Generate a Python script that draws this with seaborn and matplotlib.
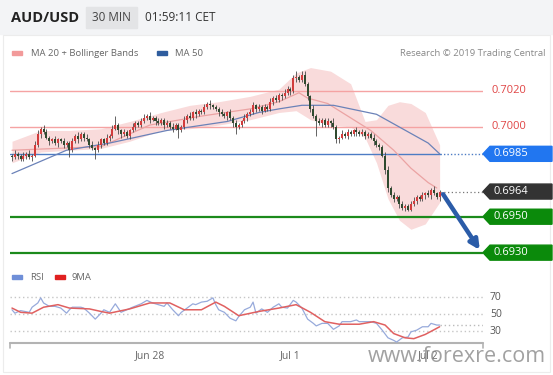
import numpy as np
import pandas as pd
import matplotlib
matplotlib.use('Agg')
import matplotlib.pyplot as plt
from matplotlib.patches import Polygon, Rectangle
import seaborn as sns

# --- data (prices in 1e-4 units) ---
first_open = 6984
closes = [6983, 6985, 6984, 6982, 6984, 6985, 6983, 6984,
          6990, 6996, 6999, 6997,
          6994, 6992, 6993, 6991, 6993, 6992, 6990, 6991, 6987,
          6992, 6995, 6993, 6996, 6994, 6993, 6990, 6988, 6987,
          6990, 6993, 6991, 6994, 6995, 6999, 7001, 6998,
          6996, 6997, 6995, 6998, 7000, 7002, 7001, 7003,
          7005, 7006, 7004, 7005, 7003, 7002, 7004, 7001, 7002,
          7000, 6999, 7001, 6998, 7000,
          7004, 7006, 7005, 7008, 7007, 7009, 7008,
          7011, 7013, 7012, 7011, 7010, 7008, 7007, 7006, 7008, 7005,
          7002, 7000, 7001, 7003, 7005, 7007, 7008, 7012, 7010, 7011,
          7009, 7011, 7010, 7014, 7016, 7015, 7018, 7017, 7019, 7021, 7020,
          7027, 7028, 7026, 7029, 7024, 7017, 7010, 7006, 7003,
          7002, 7004, 7001, 7003, 7002, 7000, 6993,
          6994, 6996, 6995, 6997, 6996, 6998, 6997, 6996, 6997, 6995, 6996,
          6994, 6992, 6990, 6989, 6984, 6976, 6966,
          6962, 6960, 6961, 6957, 6955, 6956, 6954, 6957,
          6959, 6961, 6960, 6962, 6963, 6962, 6965, 6963, 6961, 6964]
wick_hi = [1, 2, 1, 1, 2, 1, 2, 1, 2, 2, 1, 2, 2, 1, 1, 2, 1, 1, 2, 1, 1,
           2, 1, 2, 1, 1, 2, 1, 2, 1, 2, 1, 1, 2, 1, 2, 5, 1,
           1, 2, 1, 1, 2, 1, 1, 2, 2, 1, 2, 1, 1, 2, 1, 1, 2,
           1, 2, 1, 1, 1, 2, 1, 2, 1, 2, 1, 1, 2, 1, 2, 1, 1, 1, 2, 1, 1, 2,
           1, 2, 1, 1, 2, 1, 2, 2, 1, 2, 1, 2, 1, 2, 1, 2, 1, 1, 2, 2, 1,
           2, 3, 1, 2, 2, 1, 1, 2, 1, 2, 1, 1, 2, 1, 3, 1,
           1, 2, 1, 2, 1, 1, 2, 1, 2, 1, 1, 1, 2, 1, 1, 1, 2, 2,
           1, 2, 1, 1, 2, 1, 1, 2, 2, 1, 1, 2, 1, 2, 1, 2, 1, 1]
wick_lo = [2, 1, 2, 1, 1, 2, 1, 2, 1, 1, 2, 1, 1, 2, 1, 1, 2, 1, 2, 1, 4,
           1, 1, 2, 1, 2, 1, 2, 1, 5, 1, 2, 1, 1, 2, 1, 1, 2,
           2, 1, 1, 2, 1, 2, 1, 1, 1, 1, 2, 1, 2, 1, 1, 2, 1,
           1, 2, 1, 4, 1, 1, 2, 1, 1, 2, 1, 1, 1, 1, 2, 1, 1, 2, 1, 1, 2, 1,
           2, 4, 1, 1, 1, 2, 1, 1, 2, 1, 2, 1, 1, 1, 2, 1, 1, 2, 1, 1, 2,
           1, 2, 1, 1, 1, 2, 2, 1, 8, 1, 2, 1, 1, 2, 1, 2,
           2, 1, 1, 2, 1, 1, 2, 1, 1, 2, 1, 1, 2, 1, 2, 1, 2, 2,
           1, 2, 1, 2, 1, 2, 1, 1, 1, 2, 1, 1, 2, 1, 2, 1, 1, 2]

ma20_at = [0, 31, 48, 66, 83, 93, 100, 103, 110, 117, 125, 133, 139, 145, 148]
ma20 = [6987, 6989, 7001, 7006, 7010, 7014, 7019, 7016, 7013, 7006, 6998, 6987, 6977, 6969, 6966]
ma50_at = [0, 19, 34, 54, 75, 86, 93, 101, 112, 127, 136, 145, 149]
ma50 = [6974, 6987, 6991, 6998, 7003, 7008, 7010, 7012, 7012, 7007, 6999, 6991, 6985]
band_at = [0, 10, 20, 31, 41, 52, 62, 72, 83, 93, 99, 104, 111, 118, 123, 127, 131, 135, 139, 144, 149]
band_up = [6992, 6998, 6998, 6999, 7003, 7008, 7012, 7014, 7017, 7021, 7030, 7033, 7031, 7024,
           7003, 7004, 7012, 7014, 7013, 7008, 6990]
band_lo = [6980, 6986, 6987, 6988, 6992, 6998, 6999, 7001, 7004, 7008, 7009, 7004, 7001, 7000,
           6994, 6980, 6960, 6948, 6943, 6946, 6958]

rsi_at = [0, 1, 3, 6, 7, 9, 10, 11, 13, 15, 17, 19, 20, 21, 24, 25, 27, 29, 31, 32, 34, 36, 38,
          40, 42, 45, 47, 49, 51, 53, 54, 56, 58, 59, 61, 63, 64, 66, 68, 70, 71, 72, 74, 76,
          78, 79, 81, 83, 84, 85, 87, 89, 91, 93, 94, 96, 98, 99, 101, 103, 105, 106, 108,
          110, 112, 114, 115, 118, 120, 121, 124, 125, 127, 129, 131, 133, 134, 136, 138,
          139, 141, 143, 145, 146, 148, 149]
rsi = [55, 51, 54, 52, 58, 63, 69, 63, 59, 59, 57, 51, 55, 58, 58, 57, 51, 44, 51, 55, 52, 62, 52,
       55, 58, 62, 66, 63, 61, 59, 63, 55, 48, 52, 57, 62, 61, 64, 65, 69, 61, 55, 52, 45,
       42, 47, 55, 58, 64, 51, 56, 52, 58, 62, 58, 57, 66, 64, 57, 44, 39, 36, 39,
       39, 32, 36, 41, 41, 43, 41, 41, 41, 39, 31, 22, 19, 17, 22, 23,
       29, 31, 35, 35, 39, 37, 37]
rsi_ma_at = [0, 3, 7, 11, 16, 20, 27, 31, 34, 41, 48, 55, 60, 66, 71, 74, 79, 86, 93, 99,
             104, 109, 114, 121, 126, 130, 133, 137, 140, 144, 149]
rsi_ma = [57, 52, 51, 58, 61, 57, 56, 53, 51, 56, 63, 63, 55, 55, 64, 59, 48, 53, 57, 61,
          52, 41, 38, 38, 41, 37, 27, 22, 21, 26, 35]

levels = [0.7020, 0.7000, 0.6985, 0.6964, 0.6950, 0.6930]
level_kind = ['res', 'res', 'ma', 'last', 'sup', 'sup']
rsi_levels = [70, 50, 30]
rsi_last = 37
date_ticks = [48, 97, 145]
date_labels = ['Jun 28', 'Jul 1', 'Jul 2']

# --- layout ---
W, H = 553, 375
STEP = 2.87          # pixels per candle
X0 = (10 - 12) / STEP
X1 = (483 - 12) / STEP
LAST = len(closes) - 1

sns.set_theme(style='white')
plt.rcParams['font.family'] = ['Open Sans', 'DejaVu Sans']

fig = plt.figure(figsize=(W / 100, H / 100), dpi=100)
ov = fig.add_axes([0, 0, 1, 1], zorder=0)
ov.set_xlim(0, W)
ov.set_ylim(H, 0)
ov.axis('off')

ax = fig.add_axes([10 / W, 1 - 262 / H, 473 / W, 200 / H], zorder=1)
ax.set_xlim(X0, X1)
ax.set_ylim(6924.8, 7036.1)
ax.axis('off')

rax = fig.add_axes([10 / W, 1 - 343 / H, 473 / W, 55 / H], zorder=1)
rax.set_xlim(X0, X1)
rax.set_ylim(15.9, 80.6)
rax.axis('off')

# header
ov.add_patch(Rectangle((0, 0), W, 34, color='#f3f4f6', zorder=0))
ov.add_patch(Rectangle((86, 7), 51, 21, color='#e3e4e6', zorder=1))
ov.text(11, 17.5, 'AUD/USD', fontsize=10.5, fontweight='bold', color='#222222', va='center')
ov.text(92, 17.5, '30 MIN', fontsize=8.5, color='#444444', va='center')
ov.text(145, 17.5, '01:59:11 CET', fontsize=8.5, color='#333333', va='center')
ov.add_patch(Rectangle((3, 35), W - 6, H - 38, fill=False, edgecolor='#ececec', lw=0.8))

# legends
ov.add_patch(Rectangle((12, 51), 10, 4, color='#f29a9a'))
ov.text(31, 53, 'MA 20 + Bollinger Bands', fontsize=6.8, color='#666666', va='center')
ov.add_patch(Rectangle((157, 51), 10, 4, color='#2f5d9e'))
ov.text(175, 53, 'MA 50', fontsize=6.8, color='#666666', va='center')
ov.text(545, 53, 'Research \u00a9 2019 Trading Central', fontsize=6.8, color='#888888',
        va='center', ha='right')
ov.add_patch(Rectangle((12, 275), 10, 4, color='#6f8fd8'))
ov.text(30, 277, 'RSI', fontsize=6.8, color='#666666', va='center')
ov.add_patch(Rectangle((55, 275), 10, 4, color='#e02020'))
ov.text(72, 277, '9MA', fontsize=6.8, color='#666666', va='center')

# bollinger + moving averages
ax.fill_between(band_at, band_lo, band_up, color='#f7cccc', alpha=0.7, lw=0, zorder=1)
sns.lineplot(x=ma20_at, y=ma20, ax=ax, color='#eba3a3', lw=0.9, zorder=2, legend=False)
sns.lineplot(x=ma50_at, y=ma50, ax=ax, color='#6b82b8', lw=0.9, zorder=2, legend=False)

# horizontal levels
for lvl, kind in zip(levels, level_kind):
    y = lvl * 10000
    if kind == 'res':
        ax.plot([X0, X1], [y, y], color='#f5a3a3', lw=1.0, zorder=1.5)
    elif kind == 'ma':
        ax.plot([X0, LAST], [y, y], color='#4d7cc4', lw=1.0, zorder=1.5)
        ax.plot([LAST, X1], [y, y], color='#4d7cc4', lw=1.0, ls=(0, (1, 1.5)), zorder=1.5)
    elif kind == 'last':
        ax.plot([LAST, X1], [y, y], color='#777777', lw=0.9, ls=(0, (1, 2)), zorder=1.5)
    else:
        ax.plot([X0, X1], [y, y], color='#1b8a1b', lw=1.6, zorder=1.5)

# candles
df = pd.DataFrame({'close': closes, 'hw': wick_hi, 'lw': wick_lo})
df['open'] = df['close'].shift(1).fillna(first_open)
df['top'] = df[['open', 'close']].max(axis=1)
df['bot'] = df[['open', 'close']].min(axis=1)
df['high'] = df['top'] + df['hw']
df['low'] = df['bot'] - df['lw']
idx = np.arange(len(df))
up = df['close'] >= df['open']
ax.vlines(idx, df['low'], df['high'], color='#4a4a4a', lw=0.6, zorder=3)
body = (df['top'] - df['bot']).clip(lower=0.5)
ax.bar(idx, body, bottom=df['bot'], width=0.7,
       color=np.where(up, '#d23c3c', '#2f4a2f'), lw=0, zorder=4)

# forecast arrow
ax.annotate('', xy=(163.0, 6931.5), xytext=(150.2, 6962.5),
            arrowprops=dict(arrowstyle='-|>', color='#2b5ca8', lw=3.2, mutation_scale=14,
                            shrinkA=0, shrinkB=0), zorder=5)

# level tags on the right
fig.canvas.draw()
for lvl, kind in zip(levels, level_kind):
    yp = H - ax.transData.transform((0, lvl * 10000))[1]
    txt = f'{lvl:.4f}'
    if kind == 'res':
        ov.text(492, yp, txt, fontsize=8, color='#e04545', va='center')
        continue
    face = {'ma': '#2176f0', 'last': '#333333', 'sup': '#0b8a0b'}[kind]
    ov.add_patch(Polygon([(483, yp), (490, yp - 7.5), (552, yp - 7.5), (552, yp + 7.5),
                          (490, yp + 7.5)], closed=True, color=face, zorder=2))
    ov.text(493, yp, txt, fontsize=8, color='white', va='center', zorder=3)

# RSI panel
for lv in rsi_levels:
    rax.plot([X0, X1], [lv, lv], color='#c6c6c6', lw=1.0, ls=(0, (1, 2)), zorder=1)
rax.plot([LAST, X1], [rsi_last, rsi_last], color='#bbbbbb', lw=1.0, ls=(0, (1, 2)), zorder=1)
sns.lineplot(x=rsi_at, y=rsi, ax=rax, color='#97aadb', lw=0.9, zorder=2, legend=False)
sns.lineplot(x=rsi_ma_at, y=rsi_ma, ax=rax, color='#e06060', lw=1.1, zorder=3, legend=False)
rax.set_xlabel('')
rax.set_ylabel('')
ax.set_xlabel('')
ax.set_ylabel('')

fig.canvas.draw()
for lv in rsi_levels:
    yp = H - rax.transData.transform((0, lv))[1]
    ov.text(490, yp, str(lv), fontsize=7.5, color='#555555', va='center')

# time axis
ov.plot([10, 483], [343, 343], color='#b3b3b3', lw=1.5)
ov.plot([10, 10], [343, 348], color='#b3b3b3', lw=1.2)
ov.plot([483, 483], [343, 348], color='#b3b3b3', lw=1.2)
for t, lab in zip(date_ticks, date_labels):
    ov.text(12 + STEP * t, 356, lab, fontsize=7.5, color='#666666', ha='center', va='center')

ov.text(546, 357, 'www.forexre.com', fontsize=15.5, color='#8a8a8a', alpha=0.8,
        ha='right', va='center', zorder=6)

fig.savefig('out.png', dpi=100)
